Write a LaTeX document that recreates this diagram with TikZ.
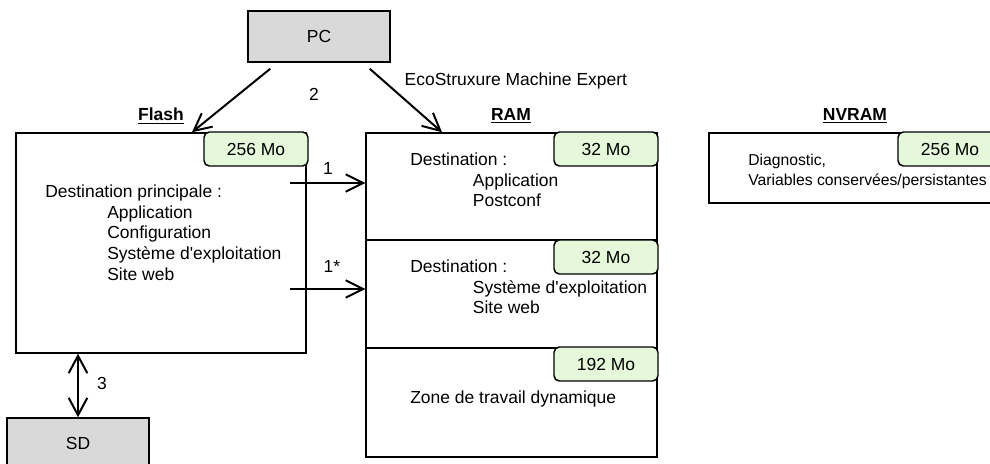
\documentclass[tikz,border=0pt]{standalone}
\usepackage{fontspec}
\setmainfont{Liberation Sans}
\usetikzlibrary{calc,arrows.meta}
\definecolor{boxgray}{RGB}{217,217,217}
\definecolor{taggreen}{RGB}{230,248,218}

\begin{document}
\begin{tikzpicture}[x=0.75pt,y=-0.75pt,
  every node/.style={font=\fontsize{13.1}{15.4}\selectfont},
  mem/.style={draw,line width=1.1pt,inner sep=0pt},
  dev/.style={mem,fill=boxgray,minimum width=106.5pt,minimum height=38.25pt},
  tag/.style={draw,line width=1.1pt,fill=taggreen,rounded corners=4pt,minimum width=78pt,minimum height=25.5pt,inner sep=0pt},
  txt/.style={anchor=north west,align=left,inner sep=0pt},
  arr/.style={line width=1.5pt,-{Straight Barb[length=13pt,width=13pt]}},
  dblarr/.style={line width=1.5pt,{Straight Barb[length=13pt,width=14pt]}-{Straight Barb[length=13pt,width=14pt]}}]
\useasboundingbox (0,0) rectangle (990,464);
\clip (0,0) rectangle (990,464);

% devices
\node[dev] (pc) at (319,36.5) {PC};
\node[dev] (sd) at (78,443.5) {SD};

% memories
\node[mem,minimum width=217.5pt,minimum height=165pt] (flash) at (161,243) {};
\node[mem,minimum width=218.25pt,minimum height=243pt] (ram) at (511.5,295) {};
\node[mem,minimum width=219.75pt,minimum height=52.5pt] (nvram) at (855.5,168) {};
\draw[line width=1.1pt] (ram.west |- 0,240) -- (ram.east |- 0,240);
\draw[line width=1.1pt] (ram.west |- 0,348) -- (ram.east |- 0,348);

\node (flashlbl) at (161,116) {\underline{\textbf{Flash}}};
\node (ramlbl) at (511,116) {\underline{\textbf{RAM}}};
\node (nvramlbl) at (855,116) {\underline{\textbf{NVRAM}}};

% sizes
\node[tag] (flashsize) at (256,149) {256 Mo};
\node[tag] (ramsizea) at (606,149) {32 Mo};
\node[tag] (ramsizeb) at (606,257) {32 Mo};
\node[tag] (ramsizec) at (606,364) {192 Mo};
\node[tag] (nvramsize) at (950,149) {256 Mo};

% contents
\node[txt] (flashtxt) at (45,185) {Destination principale :\\
  \hspace*{46.5pt}Application\\
  \hspace*{46.5pt}Configuration\\
  \hspace*{46.5pt}Syst\`eme d\textquotesingle exploitation\\
  \hspace*{46.5pt}Site web};
\node[txt] (ramtxta) at (410,153) {Destination :\\
  \hspace*{47pt}Application\\
  \hspace*{47pt}Postconf};
\node[txt] (ramtxtb) at (410,260) {Destination :\\
  \hspace*{47pt}Syst\`eme d\textquotesingle exploitation\\
  \hspace*{47pt}Site web};
\node[txt] (ramtxtc) at (410,391) {Zone de travail dynamique};
\node[txt,font=\fontsize{11.8}{15}\selectfont] (nvramtxt) at (748,154) {Diagnostic,\\Variables conserv\'ees/persistantes};

% transfers
\draw[arr] ($(pc.south west)+(23,6)$) -- ($(flash.north)+(31,0)$);
\draw[arr] ($(pc.south east)+(-21,6)$) -- ($(ram.north)+(-69.5,0)$);
\node (lbltwo) at (314,94) {2};
\node[anchor=west] (tool) at (400,81) {EcoStruxure Machine Expert};

\coordinate (outa) at (290,183);
\coordinate (outb) at (290,289);
\draw[arr] (outa) -- (outa -| ram.west);
\draw[arr] (outb) -- (outb -| ram.west);
\node (lblone) at (328,168) {1};
\node (lblonestar) at (332,266) {1*};

\draw[dblarr] (flash.south -| sd.north) -- (sd.north);
\node (lblthree) at (102,383) {3};
\end{tikzpicture}
\end{document}
